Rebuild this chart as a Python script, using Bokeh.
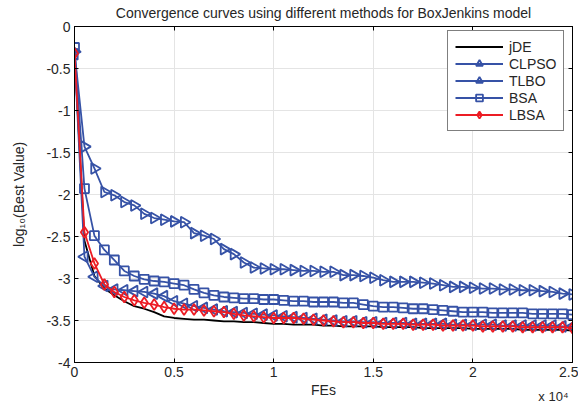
import numpy as np
from bokeh.plotting import figure
from bokeh.models import (FixedTicker, LinearAxis, Legend, LegendItem, Range1d,
                          ColumnDataSource, Title)
from bokeh.embed import file_html
from bokeh.resources import INLINE

fes = list(range(0, 25001, 500))

jde = [-0.30, -2.55, -2.97, -3.12, -3.20, -3.27, -3.33, -3.36, -3.40, -3.45,
       -3.47, -3.48, -3.49, -3.49, -3.50, -3.51, -3.51, -3.52, -3.52, -3.53,
       -3.54, -3.54, -3.55, -3.55, -3.55, -3.56, -3.56, -3.57, -3.57, -3.57,
       -3.57, -3.58, -3.58, -3.58, -3.58, -3.59, -3.59, -3.59, -3.59, -3.59,
       -3.60, -3.60, -3.60, -3.60, -3.60, -3.61, -3.61, -3.61, -3.61, -3.61, -3.62]

clpso = [-0.30, -1.43, -1.69, -1.97, -2.01, -2.09, -2.13, -2.23, -2.28, -2.30,
         -2.32, -2.33, -2.46, -2.49, -2.53, -2.65, -2.71, -2.81, -2.87, -2.88,
         -2.89, -2.89, -2.90, -2.91, -2.91, -2.92, -2.92, -2.96, -2.96, -2.97,
         -2.99, -3.02, -3.04, -3.04, -3.04, -3.05, -3.06, -3.08, -3.10, -3.10,
         -3.11, -3.12, -3.12, -3.13, -3.13, -3.14, -3.14, -3.15, -3.16, -3.18, -3.19]

tlbo = [-0.33, -2.74, -2.98, -3.09, -3.13, -3.14, -3.15, -3.16, -3.18, -3.21,
        -3.27, -3.30, -3.33, -3.35, -3.37, -3.39, -3.40, -3.41, -3.42, -3.43,
        -3.44, -3.45, -3.46, -3.47, -3.48, -3.49, -3.50, -3.51, -3.51, -3.52,
        -3.52, -3.53, -3.53, -3.53, -3.54, -3.54, -3.54, -3.54, -3.55, -3.55,
        -3.55, -3.55, -3.55, -3.56, -3.56, -3.56, -3.56, -3.56, -3.56, -3.57, -3.57]

bsa = [-0.25, -1.93, -2.49, -2.66, -2.78, -2.91, -2.97, -3.01, -3.03, -3.04,
       -3.06, -3.08, -3.13, -3.17, -3.20, -3.22, -3.23, -3.24, -3.24, -3.25,
       -3.25, -3.26, -3.27, -3.27, -3.28, -3.28, -3.28, -3.29, -3.29, -3.31,
       -3.33, -3.34, -3.34, -3.35, -3.36, -3.36, -3.37, -3.38, -3.39, -3.40,
       -3.40, -3.40, -3.41, -3.41, -3.41, -3.41, -3.42, -3.42, -3.42, -3.42, -3.43]

lbsa = [-0.32, -2.45, -2.82, -3.07, -3.16, -3.22, -3.26, -3.29, -3.31, -3.34,
        -3.36, -3.37, -3.37, -3.38, -3.39, -3.40, -3.42, -3.44, -3.45, -3.46,
        -3.47, -3.47, -3.47, -3.48, -3.49, -3.50, -3.51, -3.52, -3.52, -3.53,
        -3.53, -3.54, -3.54, -3.54, -3.55, -3.55, -3.55, -3.56, -3.56, -3.56,
        -3.56, -3.57, -3.57, -3.57, -3.57, -3.58, -3.58, -3.58, -3.58, -3.58, -3.59]

x_ticks = [0, 5000, 10000, 15000, 20000, 25000]
x_tick_labels = ["0", "0.5", "1", "1.5", "2", "2.5"]
y_ticks = [-4, -3.5, -3, -2.5, -2, -1.5, -1, -0.5, 0]
y_tick_labels = ["-4", "-3.5", "-3", "-2.5", "-2", "-1.5", "-1", "-0.5", "0"]

FONT = "Liberation Sans"
FS = "14px"
BLUE = "#3652a6"
RED = "#ec1c24"
TXT = "#262626"

p = figure(width=578, height=406, output_backend="svg", toolbar_location=None,
           x_range=Range1d(0, 25000), y_range=Range1d(-4, 0),
           min_border_left=74, min_border_right=6, min_border_top=26, min_border_bottom=44,
           background_fill_color="white", border_fill_color="white")
p.outline_line_color = "black"
p.outline_line_width = 1

p.title.text = "Convergence curves using different methods for BoxJenkins model"
p.title.text_font = FONT
p.title.text_font_size = FS
p.title.text_font_style = "normal"
p.title.text_color = TXT
p.title.align = "center"
p.title.vertical_align = "top"
p.title.standoff = 8

for ax, ticks, labels in ((p.xaxis[0], x_ticks, x_tick_labels), (p.yaxis[0], y_ticks, y_tick_labels)):
    ax.ticker = FixedTicker(ticks=ticks)
    ax.major_label_overrides = {t: l for t, l in zip(ticks, labels)}
    ax.major_label_text_font = FONT
    ax.major_label_text_font_size = FS
    ax.major_label_text_color = TXT
    ax.major_tick_in = 4
    ax.major_tick_out = 0
    ax.minor_tick_line_color = None
    ax.axis_line_color = "black"
    ax.major_tick_line_color = "black"
    ax.axis_label_text_font = FONT
    ax.axis_label_text_font_size = FS
    ax.axis_label_text_font_style = "normal"
    ax.axis_label_text_color = TXT

p.xaxis.axis_label = "FEs"
p.xaxis.major_label_standoff = 4
p.xaxis.axis_label_standoff = 2
p.yaxis.axis_label = "log\u2081\u2080(Best Value)"
p.yaxis.major_label_standoff = 4
p.yaxis.axis_label_standoff = 16

for loc, ticks in (("above", x_ticks), ("right", y_ticks)):
    ax = LinearAxis(ticker=FixedTicker(ticks=ticks),
                    major_label_overrides={t: "" for t in ticks},
                    major_tick_in=4, major_tick_out=0, minor_tick_line_color=None,
                    axis_line_color="black", major_label_standoff=0)
    p.add_layout(ax, loc)

p.grid.grid_line_color = "#e4e4e4"
p.xgrid.ticker = FixedTicker(ticks=x_ticks)
p.ygrid.ticker = FixedTicker(ticks=y_ticks)

n = len(fes)
src_cl = ColumnDataSource(dict(x=fes, y=clpso, a=[-np.pi / 2] * n))
src_tl = ColumnDataSource(dict(x=fes, y=tlbo, a=[np.pi / 2] * n))

r_jde = p.line(fes, jde, line_color="black", line_width=1.8)

r_cl_l = p.line(fes, clpso, line_color=BLUE, line_width=1.8)
r_cl_m = p.scatter("x", "y", source=src_cl, marker="triangle", angle="a", size=11,
                   fill_color=None, line_color=BLUE, line_width=1.8)

r_tl_l = p.line(fes, tlbo, line_color=BLUE, line_width=1.8)
r_tl_m = p.scatter("x", "y", source=src_tl, marker="triangle", angle="a", size=11,
                   fill_color=None, line_color=BLUE, line_width=1.8)

r_bs_l = p.line(fes, bsa, line_color=BLUE, line_width=1.8)
r_bs_m = p.scatter(fes, bsa, marker="square", size=9,
                   fill_color=None, line_color=BLUE, line_width=1.8)

r_lb_l = p.line(fes, lbsa, line_color=RED, line_width=1.8)
r_lb_m = p.scatter(fes, lbsa, marker="diamond", size=11,
                   fill_color=None, line_color=RED, line_width=1.8)

legend = Legend(items=[
    LegendItem(label="jDE", renderers=[r_jde]),
    LegendItem(label="CLPSO", renderers=[r_cl_l, r_cl_m]),
    LegendItem(label="TLBO", renderers=[r_tl_l, r_tl_m]),
    LegendItem(label="BSA", renderers=[r_bs_l, r_bs_m]),
    LegendItem(label="LBSA", renderers=[r_lb_l, r_lb_m]),
], location=(373, 231))
legend.label_text_font = FONT
legend.label_text_font_size = FS
legend.label_text_color = TXT
legend.glyph_width = 48
legend.glyph_height = 17
legend.label_height = 17
legend.spacing = 0
legend.padding = 7
legend.margin = 0
legend.label_standoff = 6
legend.border_line_color = "black"
legend.border_line_width = 1
legend.background_fill_color = "white"
legend.background_fill_alpha = 1
p.add_layout(legend, "center")

exp_title = Title(text="x 10\u2074", align="right", vertical_align="top", text_font=FONT,
                  text_font_size="13px", text_font_style="normal", text_color=TXT,
                  standoff=-24, offset=4)
p.add_layout(exp_title, "below")

open("out.html", "w").write(file_html(p, INLINE))
